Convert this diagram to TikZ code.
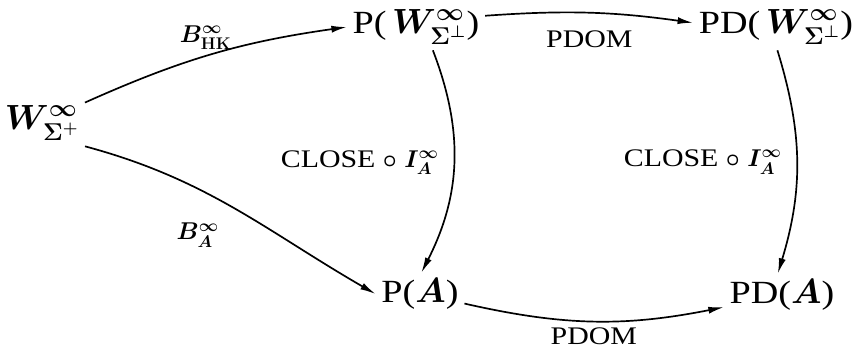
\documentclass[tikz,border=0pt]{standalone}
\usepackage{fontspec}
\setmainfont{Liberation Serif}[FakeStretch=1.18]
\usetikzlibrary{arrows.meta}

\begin{document}
\begin{tikzpicture}[x=0.025cm,y=-0.025cm,
        obj/.style={font=\fontsize{23}{27}\selectfont\boldmath, inner sep=4pt},
        lbl/.style={font=\fontsize{18}{21}\selectfont\boldmath, inner sep=4pt},
        arr/.style={-{Latex[length=11pt,width=5pt]}, line width=1.2pt}]
        \useasboundingbox (0,0) rectangle (852,357);

        % objekty
        \node[obj] (w) at (42,123) {$W^{\infty}_{\Sigma^{+}}$};
        \node[obj] (pw) at (416,27) {P(\,$W^{\infty}_{\Sigma^{\perp}}$)};
        \node[obj] (pdw) at (776,27) {PD(\,$W^{\infty}_{\Sigma^{\perp}}$)};
        \node[obj] (pa) at (420,294) {P($A$)};
        \node[obj] (pda) at (782,295) {PD($A$)};

        % šipky
        \draw[arr] (w) to[bend left=8] node[lbl, above, pos=0.47] {$B^{\infty}_{\mathbf{HK}}$} (pw.west);
        \draw[arr] (w.south east) to[out=-15, in=150] node[lbl, below=20pt, pos=0.36] {$B^{\infty}_{A}$} (pa.west);
        \draw[arr] ([xshift=12pt]pw.south) to[bend left=24] node[lbl, left=6pt] {CLOSE $\circ$ $I^{\infty}_{A}$} ([xshift=1pt]pa.north);
        \draw[arr] ([xshift=1pt]pdw.south) to[bend left=17] node[lbl, left=6pt] {CLOSE $\circ$ $I^{\infty}_{A}$} ([xshift=-3pt]pda.north);
        \draw[arr] ([yshift=8pt]pw.east) to[bend left=6] node[lbl, below=8pt] {PDOM} ([yshift=3pt]pdw.west);
        \draw[arr] (pa) to[bend right=12] node[lbl, below] {PDOM} (pda);
    \end{tikzpicture}
\end{document}
